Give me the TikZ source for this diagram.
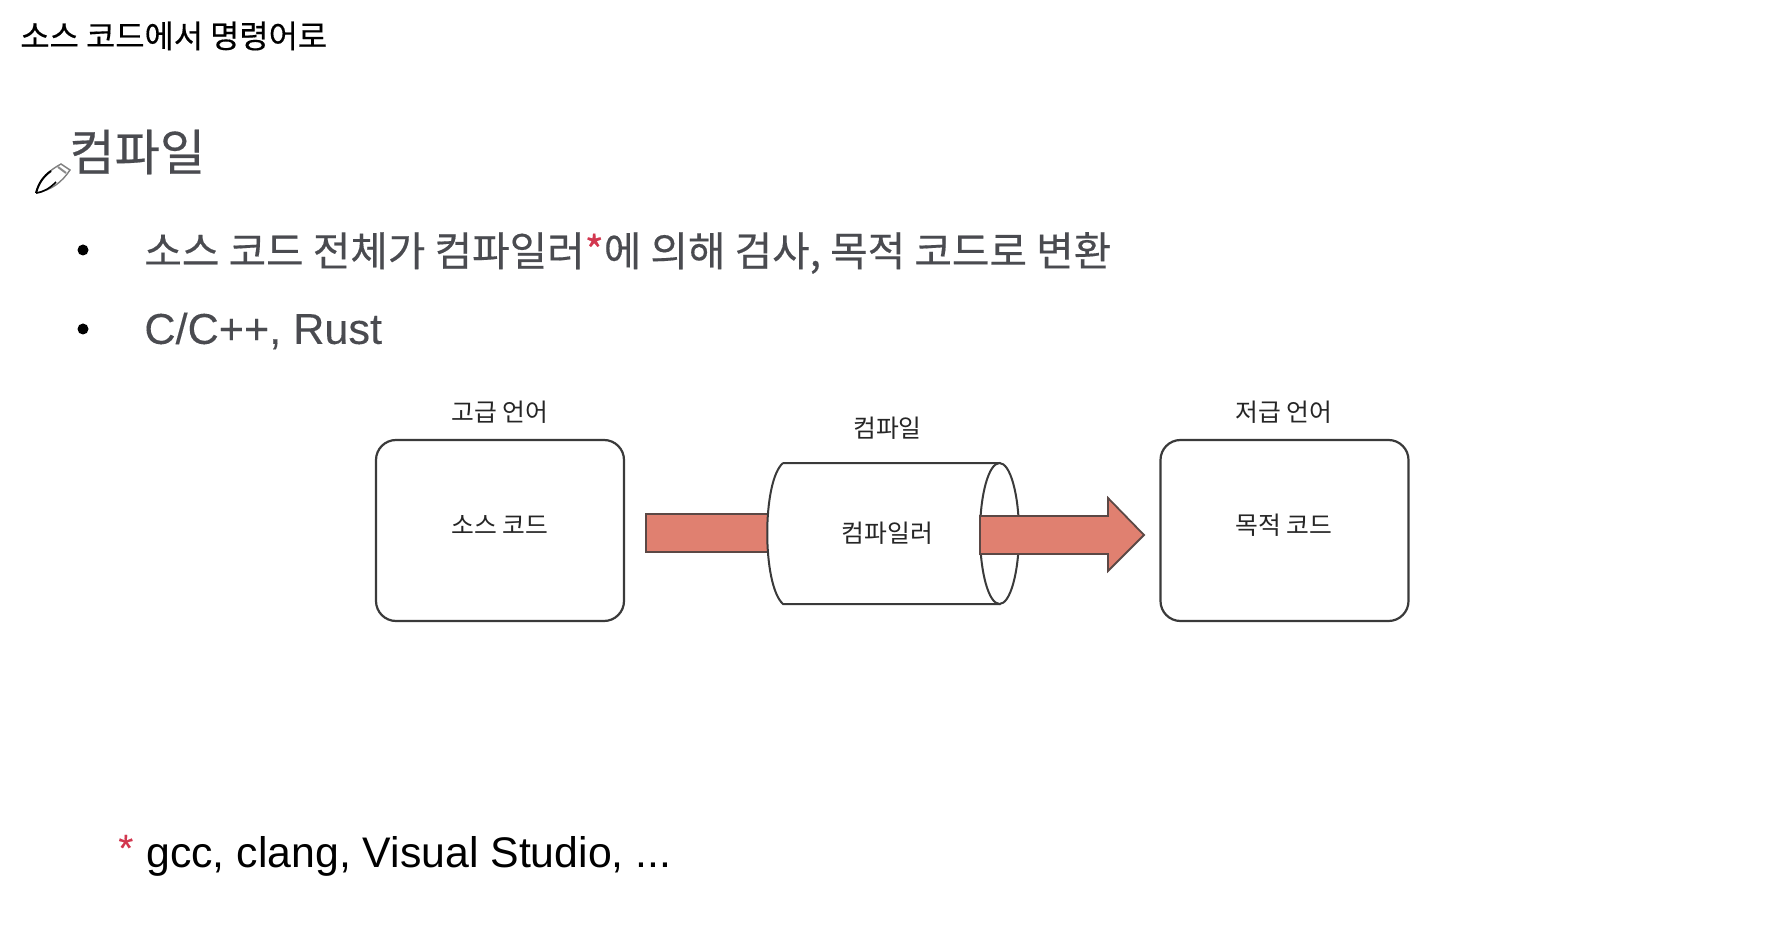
\documentclass[tikz,border=0pt]{standalone}
\usepackage{fontspec}
\usepackage{tikz}
\setmainfont{Noto Sans CJK KR}
\newfontfamily\krMedium[FakeBold=0.35]{Noto Sans CJK KR}
\newfontfamily\latinFont{Liberation Sans}
\newfontfamily\latinMedium[FakeBold=0.2]{Liberation Sans}
\definecolor{textGray}{HTML}{4A4B50}
\definecolor{starRed}{HTML}{D2374F}
\definecolor{arrowRed}{HTML}{E08070}
\definecolor{lineDark}{HTML}{3A3A3A}
\newcommand{\pxFont}[1]{\fontsize{#1}{#1}\selectfont}
\tikzset{
    titleText/.style={anchor=west, inner sep=0pt, text=black, font=\krMedium\pxFont{15.9}},
    headText/.style={anchor=west, inner sep=0pt, text=textGray, font=\krMedium\pxFont{24.6}},
    itemText/.style={anchor=west, inner sep=0pt, text=textGray, font=\krMedium\pxFont{20.4}},
    noteText/.style={anchor=west, inner sep=0pt, text=black, font=\latinFont\pxFont{21.4}},
    sketchText/.style={inner sep=0pt, text=black!85, font=\pxFont{12.4}},
    itemDot/.style={circle, fill=black, inner sep=0pt, minimum size=5.5pt},
    codeBox/.style={draw=lineDark, line width=1.1pt, rounded corners=10pt, fill=white, minimum width=124pt, minimum height=90.5pt, inner sep=0pt},
    flowBar/.style={draw=lineDark!80!arrowRed, line width=0.9pt, fill=arrowRed, line join=miter},
    pipeLine/.style={draw=lineDark, line width=1pt},
}
\begin{document}
\begin{tikzpicture}[x=0.5pt, y=-0.5pt]
    \useasboundingbox (0, 0) rectangle (1768, 936);

    % heading texts
    \node[titleText] (pageTitle) at (20, 36) {소스 코드에서 명령어로};
    \node[headText] (compileHead) at (69, 152) {컴파일};
    \node[itemDot] (dotOne) at (83, 250) {};
    \node[itemDot] (dotTwo) at (83, 329) {};
    \node[itemText] (itemOne) at (144, 253) {소스 코드 전체가 컴파일러{\color{starRed}*}에 의해 검사, 목적 코드로 변환};
    \node[itemText, font=\latinMedium\pxFont{21.6}] (itemTwo) at (144, 331) {C/C++, Rust};

    % pen cursor
    \draw[black!50, line width=0.7pt, fill=white] (36, 193) .. controls (40, 178) and (50, 170) .. (61, 164) -- (70, 170) .. controls (62, 182) and (52, 190) .. (36, 193);
    \draw[black, line width=1pt] (36, 193) .. controls (39, 182) and (44, 176) .. (51, 171);
    \draw[black, line width=0.8pt] (36, 193) .. controls (44, 192) and (50, 188) .. (56, 182);
    \draw[black!45, line width=1pt] (58, 167) -- (66, 173);

    % source box
    \node[codeBox] (srcBox) at (500, 530.5) {};
    \node[sketchText] (srcTop) at (500, 412) {고급 언어};
    \node[sketchText] (srcText) at (500, 525) {소스 코드};

    % target box
    \node[codeBox] (objBox) at (1284.5, 530.5) {};
    \node[sketchText] (objTop) at (1284, 412) {저급 언어};
    \node[sketchText] (objText) at (1284, 525) {목적 코드};

    % left arrow bar
    \draw[flowBar] (646, 514) -- (770, 514) -- (770, 552) -- (646, 552) -- cycle;

    % compiler body
    \coordinate (pipeTopL) at (783, 463);
    \coordinate (pipeTopR) at (999.5, 463);
    \coordinate (pipeBotR) at (999.5, 604);
    \coordinate (pipeBotL) at (783, 604);
    \coordinate (pipeEnd) at (999.5, 533.5);
    \draw[pipeLine, fill=white] (pipeTopL) -- (pipeTopR) -- (pipeBotR) -- (pipeBotL) .. controls (762, 585) and (762, 481) .. (pipeTopL);
    \draw[pipeLine, fill=white] (pipeEnd) ellipse [x radius=19.5, y radius=70.5];

    % right arrow
    \draw[flowBar] (980, 516) -- (1108, 516) -- (1108, 498) -- (1144, 535) -- (1108, 571) -- (1108, 554) -- (980, 554) -- cycle;

    \node[sketchText] (pipeTop) at (887.5, 428) {컴파일};
    \node[sketchText] (pipeText) at (887.5, 533) {컴파일러};

    % footnote
    \node[anchor=west, inner sep=0pt, text=starRed, font=\latinMedium\pxFont{19}] (noteStar) at (118, 848) {*};
    \node[noteText] (noteText) at (146, 856) {gcc, clang, Visual Studio, ...};

\end{tikzpicture}
\end{document}
